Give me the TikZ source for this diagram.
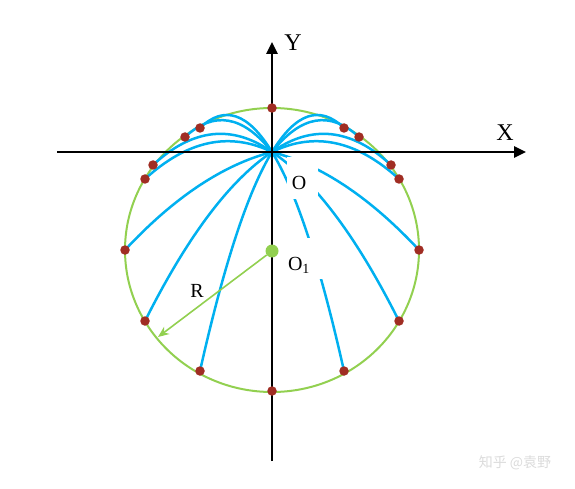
\documentclass[tikz,border=0pt]{standalone}
\usepackage{fontspec}
\setmainfont{Liberation Serif}
\newfontfamily\cjk{Noto Sans CJK SC}
\usetikzlibrary{arrows.meta,calc}
\definecolor{cgreen}{RGB}{146,208,80}
\definecolor{cblue}{RGB}{0,176,240}
\definecolor{cdot}{RGB}{160,45,35}
\begin{document}
\begin{tikzpicture}[x=1pt,y=-1pt,
  traj/.style={cblue,line width=2.5pt},
  axisline/.style={line width=2.5pt,-{Triangle[length=12pt,width=11pt]}},
  pt/.style={circle,fill=cdot,inner sep=0pt,minimum size=9.5pt},
  lbl/.style={font=\fontsize{20}{22}\selectfont,inner sep=0pt},
  axlbl/.style={font=\fontsize{24}{26}\selectfont,inner sep=0pt}]
\useasboundingbox (0,0) rectangle (575,489);
\newcommand\quadto[2]{.. controls ($(O)!0.6667!(#1)$) and ($(#2)!0.6667!(#1)$) .. (#2)}
% circle
\draw[cgreen,line width=2pt] (272,250) ellipse [x radius=147pt, y radius=142pt];
% points
\coordinate (O) at (272,152);
\coordinate (a1) at (200,128);
\coordinate (b1) at (185,137);
\coordinate (c1) at (153,165);
\coordinate (d1) at (145,179);
\coordinate (e1) at (125,250);
\coordinate (f1) at (145,321);
\coordinate (g1) at (200,371);
\coordinate (a2) at (344,128);
\coordinate (b2) at (359,137);
\coordinate (c2) at (391,165);
\coordinate (d2) at (399,179);
\coordinate (e2) at (419,250);
\coordinate (f2) at (399,321);
\coordinate (g2) at (344,371);
\coordinate (top) at (272,108);
\coordinate (bot) at (272,391);
% quadratic control points
\coordinate (ca1) at (236,93);
\coordinate (cb1) at (228.5,97);
\coordinate (cc1) at (212.5,110);
\coordinate (cd1) at (208.5,121);
\coordinate (ce1) at (198.5,171.1);
\coordinate (cf1) at (208.5,194.4);
\coordinate (cg1) at (236,210.5);
\coordinate (ca2) at (308,93);
\coordinate (cb2) at (315.5,97);
\coordinate (cc2) at (331.5,110);
\coordinate (cd2) at (335.5,121);
\coordinate (ce2) at (345.5,171.1);
\coordinate (cf2) at (335.5,194.4);
\coordinate (cg2) at (308,210.5);
% trajectories
\foreach \s in {a1,b1,c1,d1,e1,f1,g1,a2,b2,c2,d2,e2,f2,g2}
  \draw[traj] (O) \quadto{c\s}{\s};
% white label backgrounds
\fill[white] (287,157) rectangle (318,199);
\fill[white] (284,238) rectangle (326,279);
% axes
\coordinate (xs) at (57,152);
\coordinate (xe) at (526,152);
\coordinate (ys) at (272,461);
\coordinate (ye) at (272,42);
\draw[axisline] (xs) -- (xe);
\draw[axisline] (ys) -- (ye);
% dots
\foreach \p in {a1,b1,c1,d1,e1,f1,g1,a2,b2,c2,d2,e2,f2,g2,top,bot}
  \node[pt] (dot-\p) at (\p) {};
% center and radius
\node[circle,fill=cgreen,inner sep=0pt,minimum size=13pt] (O1) at (272,251) {};
\coordinate (Rend) at (158,337);
\draw[cgreen,line width=1.6pt,-{Stealth[length=11pt,width=9pt]}] (O1) -- (Rend);
% labels
\node[axlbl] (ly) at (293,43) {Y};
\node[axlbl] (lx) at (505,133) {X};
\node[lbl] (lo) at (299,183) {O};
\node[lbl] (lo1) at (299,265) {O\textsubscript{1}};
\node[lbl] (lr) at (197,291) {R};
\node[font=\cjk\fontsize{14}{16}\selectfont,text=black!14,inner sep=0pt] (wm) at (515,463) {知乎 @袁野};
\end{tikzpicture}
\end{document}
